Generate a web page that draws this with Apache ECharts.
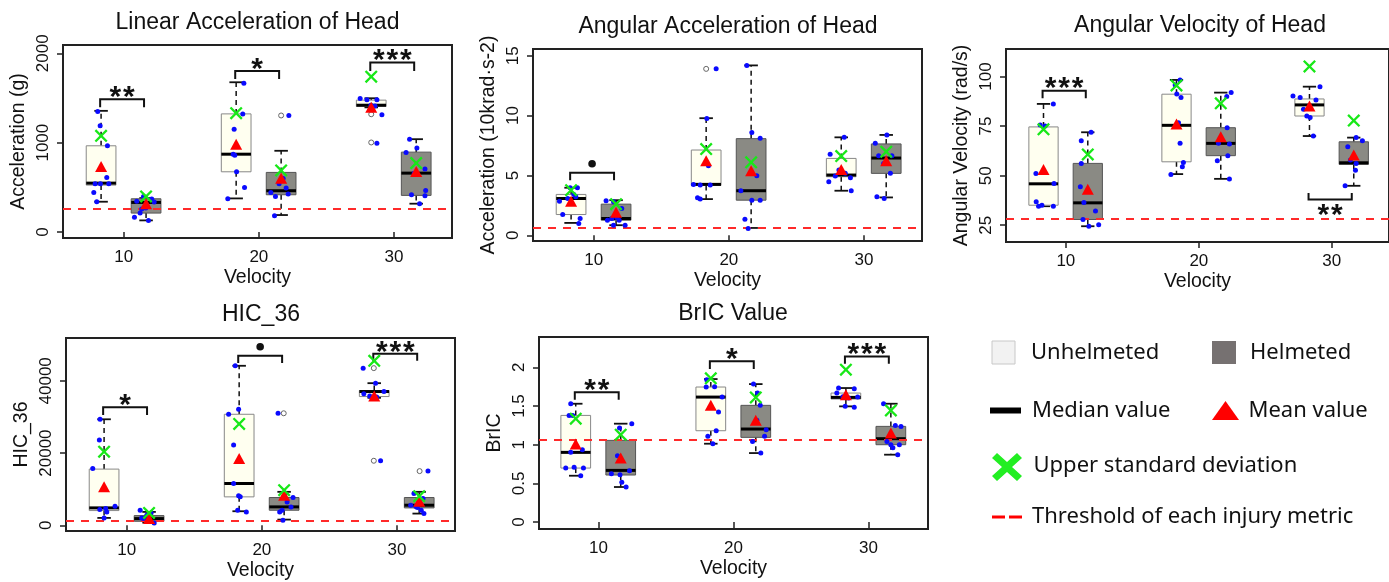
<!DOCTYPE html>
<html><head><meta charset="utf-8">
<script src="https://cdn.jsdelivr.net/npm/echarts@6/dist/echarts.min.js"></script>
<style>html,body{margin:0;padding:0;background:#fff}#c{width:1389px;height:582px}</style>
</head><body><div id="c"></div><script>
// ---------------- DATA ----------------
const velocities = [10, 20, 30];
const panelTitles = ['Linear Acceleration of Head', 'Angular Acceleration of Head', 'Angular Velocity of Head', 'HIC_36', 'BrIC Value'];
const yNames = ['Acceleration (g)', 'Acceleration (10krad\u00b7s-2)', 'Angular Velocity (rad/s)', 'HIC_36', 'BrIC'];
const xName = 'Velocity';
const xTicks = [10, 20, 30];
const linTicks = [0, 1000, 2000];
const angTicks = [0, 5, 10, 15];
const velTicks = [25, 50, 75, 100];
const hicTicks = [0, 20000, 40000];
const bricTicks = [0, 0.5, 1, 1.5, 2];
const legendLabels = ['Unhelmeted', 'Helmeted', 'Median value', 'Mean value', 'Upper standard deviation', 'Threshold of each injury metric'];

// box stats per velocity: [lower whisker, Q1, median, Q3, upper whisker]
const linBoxU = [[339, 525, 547, 965, 1356], [376, 674, 871, 1322, 1676], [1395, 1405, 1419, 1476, 1497]];
const linBoxH = [[130, 212, 331, 372, 380], [190, 417, 462, 667, 909], [317, 410, 659, 894, 1039]];
const linMeanU = [734, 983, 1397];
const linMeanH = [316, 603, 678];
const linSdU = [1076, 1330, 1739];
const linSdH = [398, 689, 771];
const linPtsU = [[8.07,1348],[8.25,1188],[8.79,965],[7.88,540],[8.27,540],[8.89,540],[8.74,611],[7.78,443],[8.0,339],
  [18.89,1665],[18.81,1322],[18.17,1151],[18.22,860],[18.35,674],[18.94,499],[17.7,372],[18.1,870],
  [27.5,1493],[28.0,1479],[28.74,1479],[29.11,1311],[28.74,994],[28.3,1420],[28.6,1410]];
const linPtsH = [[10.79,164],[11.21,212],[11.63,268],[11.83,130],[10.96,343],[12.07,369],[11.46,398],[12.25,335],[11.33,257],
  [22.22,1304],[21.23,398],[20.89,443],[22.02,492],[22.17,425],[21.16,182],[21.5,540],[21.8,600],
  [31.16,1039],[31.7,939],[30.9,890],[31.5,659],[32.3,704],[32.35,466],[31.3,417],[32.3,406],[31.9,317]];
const linOut = [[21.65,1304],[28.32,1318],[28.32,1002]];
const linThr = 260;
const linSig = [[10, 1486, 1397, '**'], [20, 1803, 1712, '*'], [30, 1896, 1803, '***']];

const angBoxU = [[1.03, 1.73, 3.07, 3.41, 3.97], [3.02, 4.16, 4.25, 7.12, 9.78], [3.72, 4.89, 5.03, 6.42, 8.18]];
const angBoxH = [[0.84, 1.26, 1.40, 2.60, 2.93], [0.61, 2.93, 3.72, 8.07, 14.19], [3.16, 5.17, 6.45, 7.63, 8.38]];
const angMeanU = [2.85, 6.23, 5.5];
const angMeanH = [1.93, 5.39, 6.23];
const angSdU = [3.77, 7.2, 6.62];
const angSdH = [2.6, 6.09, 6.98];
const angPtsU = [[7.46,2.85],[7.7,1.73],[8.25,3.97],[8.79,3.97],[8.52,3.41],[8.67,3.21],[8.99,1.40],[8.89,0.98],[8.07,3.07],
  [19.06,13.9],[18.37,9.75],[18.49,5.81],[17.38,4.25],[17.88,4.19],[18.62,4.19],[17.68,3.13],[17.88,3.02],
  [28.54,8.18],[27.5,6.76],[28.15,5.45],[27.4,4.47],[27.88,4.94],[28.62,5.17],[29.0,4.8],[29.06,3.72]];
const angPtsH = [[10.91,2.88],[11.46,2.79],[11.33,1.40],[11.7,1.48],[11.01,1.26],[11.46,0.84],[12.32,0.84],[11.88,1.26],[12.07,2.23],
  [21.33,14.19],[21.7,8.58],[22.32,8.1],[22.07,4.97],[20.89,3.72],[21.7,2.93],[22.32,2.93],[21.19,1.34],[21.43,0.56],
  [31.7,8.38],[30.84,7.68],[31.09,6.65],[32.07,6.65],[31.46,6.0],[31.96,5.17],[30.96,3.21],[31.5,3.07]];
const angOut = [[18.32,13.9]];
const angThr = 0.61;
const angSig = [[10, 5.22, 4.6, '\u25cf']];

const velBoxU = [[34.6, 35.1, 45.9, 74.6, 86.2], [50.8, 57.0, 75.4, 91.1, 98.3], [70.0, 80.1, 85.7, 88.7, 94.9]];
const velBoxH = [[24.5, 27.9, 36.3, 56.2, 71.9], [48.4, 60.1, 66.3, 74.2, 91.9], [44.9, 55.7, 56.5, 67.1, 69.2]];
const velMeanU = [53.1, 76.1, 85.2];
const velMeanH = [43.2, 69.7, 60.4];
const velSdU = [73.4, 95.5, 105.1];
const velSdH = [60.7, 86.5, 77.8];
const velPtsU = [[9.06,86.2],[8.07,75.6],[8.44,75.1],[7.75,51.1],[9.11,46.1],[7.77,36.8],[7.95,34.6],[8.2,35.1],[9.06,34.6],
  [18.59,98.3],[18.22,95.8],[18.34,91.2],[18.66,89.4],[18.47,76.7],[18.59,66.3],[18.84,56.7],[18.76,54.5],[17.9,50.6],
  [29.11,94.9],[27.08,90.2],[27.62,89.4],[28.81,88.2],[27.87,83.5],[28.12,80.1],[28.37,79.4],[28.61,70.0]];
const velPtsH = [[11.9,71.9],[11.16,67.6],[11.16,56.2],[11.09,44.4],[11.36,36.5],[12.23,32.2],[11.29,27.9],[11.73,24.5],[12.47,25.3],
  [22.43,91.9],[22.1,89.9],[22.13,74.2],[21.48,66.3],[22.3,66.0],[22.18,60.1],[21.39,57.5],[22.3,48.3],
  [31.83,69.2],[32.3,67.6],[31.2,64.6],[31.83,56.2],[31.4,57.9],[31.78,52.8],[31.0,44.9]];
const velOut = [];
const velThr = 28.4;
const velSig = [[10, 92.9, 89.0, '***'], [30, 38.0, 41.3, '**']];

const hicBoxU = [[2037, 4074, 4815, 15556, 29352], [3889, 7870, 11574, 30741, 44167], [35300, 35648, 37037, 37315, 39352]];
const hicBoxH = [[741, 1111, 1852, 2685, 3704], [1574, 4167, 5093, 7685, 9259], [3241, 4815, 5556, 7685, 9259]];
const hicMeanU = [10648, 18519, 35833];
const hicMeanH = [1852, 8333, 6667];
const hicSdU = [20370, 28056, 45556];
const hicSdH = [3426, 9722, 8056];
const hicPtsU = [[8.02,29352],[7.97,23611],[7.48,15741],[9.13,5278],[8.44,4630],[8.52,3704],[8.32,2037],[8.0,4400],
  [18.03,44167],[18.28,32130],[17.54,30741],[17.91,22222],[17.91,11574],[18.28,8148],[18.4,7900],[18.21,4167],[18.85,3704],
  [27.5,43519],[28.42,39352],[27.55,36389],[27.99,35833],[29.04,37037],[28.79,17870],[28.5,35500]];
const hicPtsH = [[10.99,4167],[11.48,2778],[11.24,1852],[11.61,1389],[12.03,648],[11.8,3400],[11.1,2000],
  [21.2,31019],[22.31,7685],[21.87,6481],[21.5,4167],[22.16,5093],[21.32,3704],[21.56,1389],[21.7,8600],
  [32.3,15000],[31.26,8796],[31.93,7407],[31.02,5556],[31.51,4907],[31.8,4167],[32.0,3241],[31.4,5200]];
const hicOut = [[21.62,31019],[28.29,43519],[28.29,17870],[31.68,15000]];
const hicThr = 1200;
const hicSig = [[10, 32685, 30556, '*'], [20, 46944, 44907, '\u25cf'], [30, 47500, 45556, '***']];

const bricBoxU = [[0.599, 0.698, 0.901, 1.379, 1.53], [1.013, 1.181, 1.616, 1.746, 1.849], [1.496, 1.591, 1.612, 1.668, 1.733]];
const bricBoxH = [[0.453, 0.608, 0.668, 1.056, 1.272], [0.892, 1.095, 1.203, 1.509, 1.784], [0.871, 1.0, 1.078, 1.237, 1.53]];
const bricMeanU = [1.009, 1.509, 1.647];
const bricMeanH = [0.828, 1.315, 1.151];
const bricSdU = [1.336, 1.858, 1.97];
const bricSdH = [1.129, 1.612, 1.444];
const bricPtsU = [[7.95,1.53],[7.83,1.379],[8.1,1.379],[8.81,0.935],[7.95,0.901],[7.58,0.698],[8.2,0.707],[8.89,0.698],[8.69,0.599],
  [18.02,1.841],[17.98,1.746],[19.16,1.616],[18.89,1.422],[18.72,1.181],[18.1,1.108],[18.47,1.013],[18.6,1.75],
  [27.78,1.733],[28.94,1.724],[27.65,1.668],[28.52,1.603],[29.19,1.616],[28.27,1.496],[28.94,1.483],[28.1,1.62]];
const bricPtsH = [[12.47,1.272],[11.56,1.216],[11.41,0.858],[12.3,0.664],[10.96,0.625],[11.6,0.612],[11.73,0.513],[12.05,0.453],
  [21.48,1.784],[21.78,1.668],[21.98,1.509],[21.73,1.315],[22.42,1.194],[22.3,1.108],[21.41,1.043],[22.02,0.892],
  [31.11,1.53],[31.98,1.25],[32.4,1.237],[31.36,1.043],[31.65,1.0],[32.28,1.0],[31.8,0.96],[32.16,0.871]];
const bricOut = [];
const bricThr = 1.06;
const bricSig = [[10, 1.677, 1.582, '**'], [20, 2.078, 1.978, '*'], [30, 2.142, 2.047, '***']];

// ---------------- LAYOUT / STYLE ----------------
const FONT = '"Liberation Sans", Arial, sans-serif';
const LFONT = '"Noto Sans", "Open Sans", sans-serif';
const OFF_U = -1.68, OFF_H = 1.65, BOX_W = 2.2, CAP_W = 1.0, BR_L = -1.75, BR_R = 1.5;
const layout = [
  {left: 63, top: 45, width: 389, height: 193, xmin: 5.5, xmax: 34.3, ymin: -67, ymax: 2093, tx: 257.5, ty: 22.5},
  {left: 533, top: 49, width: 389, height: 192, xmin: 5.5, xmax: 34.3, ymin: -0.48, ymax: 15.56, tx: 728, ty: 26.3},
  {left: 1006, top: 49, width: 388, height: 193, xmin: 5.5, xmax: 34.3, ymin: 16.55, ymax: 113.9, tx: 1200, ty: 25.8},
  {left: 66, top: 338, width: 389, height: 193, xmin: 5.5, xmax: 34.3, ymin: -1583, ymax: 51861, tx: 261, ty: 315},
  {left: 539, top: 337, width: 389, height: 192, xmin: 5.6, xmax: 34.4, ymin: -0.09, ymax: 2.393, tx: 733, ty: 314}
];
const panels = [
  {ticks: linTicks, boxU: linBoxU, boxH: linBoxH, meanU: linMeanU, meanH: linMeanH, sdU: linSdU, sdH: linSdH, ptsU: linPtsU, ptsH: linPtsH, out: linOut, thr: linThr, sig: linSig},
  {ticks: angTicks, boxU: angBoxU, boxH: angBoxH, meanU: angMeanU, meanH: angMeanH, sdU: angSdU, sdH: angSdH, ptsU: angPtsU, ptsH: angPtsH, out: angOut, thr: angThr, sig: angSig},
  {ticks: velTicks, boxU: velBoxU, boxH: velBoxH, meanU: velMeanU, meanH: velMeanH, sdU: velSdU, sdH: velSdH, ptsU: velPtsU, ptsH: velPtsH, out: velOut, thr: velThr, sig: velSig},
  {ticks: hicTicks, boxU: hicBoxU, boxH: hicBoxH, meanU: hicMeanU, meanH: hicMeanH, sdU: hicSdU, sdH: hicSdH, ptsU: hicPtsU, ptsH: hicPtsH, out: hicOut, thr: hicThr, sig: hicSig},
  {ticks: bricTicks, boxU: bricBoxU, boxH: bricBoxH, meanU: bricMeanU, meanH: bricMeanH, sdU: bricSdU, sdH: bricSdH, ptsU: bricPtsU, ptsH: bricPtsH, out: bricOut, thr: bricThr, sig: bricSig}
];
const XPATH = 'path://M0,3 L3,0 L12,9 L21,0 L24,3 L15,12 L24,21 L21,24 L12,15 L3,24 L0,21 L9,12 Z';

function boxRender(fill, stroke) {
  return function (params, api) {
    const x = api.value(0);
    const lo = api.coord([x, api.value(1)]), q1 = api.coord([x, api.value(2)]), md = api.coord([x, api.value(3)]);
    const q3 = api.coord([x, api.value(4)]), hi = api.coord([x, api.value(5)]);
    const hw = api.size([BOX_W / 2, 0])[0], cw = api.size([CAP_W / 2, 0])[0];
    const px = lo[0];
    const dash = {stroke: '#111', lineWidth: 1.5, lineDash: [5, 4]};
    const solid = {stroke: '#111', lineWidth: 1.8};
    return {type: 'group', children: [
      {type: 'line', shape: {x1: px, y1: q3[1], x2: px, y2: hi[1]}, style: dash},
      {type: 'line', shape: {x1: px, y1: q1[1], x2: px, y2: lo[1]}, style: dash},
      {type: 'line', shape: {x1: px - cw, y1: hi[1], x2: px + cw, y2: hi[1]}, style: solid},
      {type: 'line', shape: {x1: px - cw, y1: lo[1], x2: px + cw, y2: lo[1]}, style: solid},
      {type: 'rect', shape: {x: px - hw, y: q3[1], width: 2 * hw, height: q1[1] - q3[1]}, style: {fill: fill, stroke: stroke, lineWidth: 1}},
      {type: 'line', shape: {x1: px - hw, y1: md[1], x2: px + hw, y2: md[1]}, style: {stroke: '#000', lineWidth: 3}}
    ]};
  };
}

function sigRender(sig) {
  return function (params, api) {
    const s = sig[params.dataIndex];
    const a = api.coord([s[0] + BR_L, s[1]]), b = api.coord([s[0] + BR_R, s[1]]), leg = api.coord([s[0], s[2]]);
    const below = s[2] > s[1];
    const cx = (a[0] + b[0]) / 2;
    const children = [{type: 'polyline', shape: {points: [[a[0], leg[1]], [a[0], a[1]], [b[0], b[1]], [b[0], leg[1]]]},
      style: {stroke: '#111', lineWidth: 2, fill: null}}];
    if (s[3] === '\u25cf') {
      children.push({type: 'circle', shape: {cx: cx, cy: a[1] - 9, r: 3.8}, style: {fill: '#111'}});
    } else {
      const n = s[3].length;
      for (let j = 0; j < n; j++) {
        children.push({type: 'text', x: cx + (j - (n - 1) / 2) * 13.5, y: below ? a[1] + 16.7 : a[1] - 1.5,
          style: {text: '*', font: 'bold 30px ' + FONT, fill: '#111', align: 'center', verticalAlign: 'middle'}});
      }
    }
    return {type: 'group', children: children};
  };
}

const grids = [], xAxes = [], yAxes = [], series = [], graphics = [];
panels.forEach(function (p, i) {
  const L = layout[i];
  grids.push({left: L.left, top: L.top, width: L.width, height: L.height, show: true, borderColor: '#222', borderWidth: 2, backgroundColor: 'transparent'});
  xAxes.push({type: 'value', gridIndex: i, min: L.xmin, max: L.xmax, axisLine: {show: false}, splitLine: {show: false},
    axisTick: {show: true, length: 6, customValues: xTicks, lineStyle: {color: '#222', width: 1.5}},
    axisLabel: {customValues: xTicks, margin: 11, fontSize: 17, fontFamily: FONT, color: '#111'},
    name: xName, nameLocation: 'middle', nameGap: 30, nameTextStyle: {fontSize: 19.5, fontFamily: FONT, color: '#111'}});
  yAxes.push({type: 'value', gridIndex: i, min: L.ymin, max: L.ymax, axisLine: {show: false}, splitLine: {show: false},
    axisTick: {show: true, length: 6, customValues: p.ticks, lineStyle: {color: '#222', width: 1.5}},
    axisLabel: {customValues: p.ticks, rotate: 90, margin: 11, fontSize: 17, fontFamily: FONT, color: '#111', formatter: function (v) { return String(v); }},
    name: yNames[i], nameLocation: 'middle', nameGap: 34, nameRotate: 90, nameTextStyle: {fontSize: 19.5, fontFamily: FONT, color: '#111'}});
  const ax = {xAxisIndex: i, yAxisIndex: i};
  series.push(Object.assign({type: 'custom', z: 1, silent: true, renderItem: boxRender('#fffff0', '#888'), encode: {x: 0, y: [1, 2, 3, 4, 5]},
    data: velocities.map(function (v, k) { return [v + OFF_U].concat(p.boxU[k]); })}, ax));
  series.push(Object.assign({type: 'custom', z: 1, silent: true, renderItem: boxRender('#8a8a84', '#555'), encode: {x: 0, y: [1, 2, 3, 4, 5]},
    data: velocities.map(function (v, k) { return [v + OFF_H].concat(p.boxH[k]); })}, ax));
  series.push(Object.assign({type: 'scatter', z: 2, silent: true, data: [], markLine: {silent: true, z: 2, symbol: ['none', 'none'], label: {show: false},
    lineStyle: {color: '#ff2a2a', width: 2, type: [8, 7]}, data: [{yAxis: p.thr}]}}, ax));
  series.push(Object.assign({type: 'scatter', z: 3, silent: true, symbol: 'circle', symbolSize: 5, data: p.out,
    itemStyle: {color: '#fff', borderColor: '#666', borderWidth: 1, opacity: 1}}, ax));
  series.push(Object.assign({type: 'scatter', z: 4, silent: true, symbol: 'circle', symbolSize: 5, data: p.ptsU.concat(p.ptsH),
    itemStyle: {color: '#0a0aff', opacity: 1}}, ax));
  series.push(Object.assign({type: 'scatter', z: 5, silent: true, symbol: 'triangle', symbolSize: [12, 11],
    data: velocities.map(function (v, k) { return [v + OFF_U, p.meanU[k]]; }).concat(velocities.map(function (v, k) { return [v + OFF_H, p.meanH[k]]; })),
    itemStyle: {color: '#ff0000', opacity: 1}}, ax));
  series.push(Object.assign({type: 'scatter', z: 6, silent: true, symbol: XPATH, symbolSize: 13,
    data: velocities.map(function (v, k) { return [v + OFF_U, p.sdU[k]]; }).concat(velocities.map(function (v, k) { return [v + OFF_H, p.sdH[k]]; })),
    itemStyle: {color: '#18e818', opacity: 1}}, ax));
  series.push(Object.assign({type: 'custom', z: 6, silent: true, renderItem: sigRender(p.sig), encode: {x: 0, y: [1, 2]},
    data: p.sig.map(function (s) { return [s[0], s[1], s[2]]; })}, ax));
  graphics.push({type: 'text', x: L.tx, y: L.ty, style: {text: panelTitles[i], font: '23px ' + FONT, fill: '#111', align: 'center', verticalAlign: 'middle'}});
});

// legend panel
const lt = {font: '22px ' + LFONT, fill: '#111', align: 'left', verticalAlign: 'middle'};
graphics.push(
  {type: 'rect', shape: {x: 992, y: 341, width: 23, height: 23}, style: {fill: '#f2f2f2', stroke: '#c8c8c8', lineWidth: 1}},
  {type: 'text', x: 1031, y: 352.5, style: Object.assign({text: legendLabels[0]}, lt)},
  {type: 'rect', shape: {x: 1212, y: 341, width: 24, height: 23}, style: {fill: '#767171'}},
  {type: 'text', x: 1250, y: 352.5, style: Object.assign({text: legendLabels[1]}, lt)},
  {type: 'rect', shape: {x: 990, y: 407.5, width: 31, height: 6}, style: {fill: '#000'}},
  {type: 'text', x: 1032, y: 410.5, style: Object.assign({text: legendLabels[2]}, lt)},
  {type: 'polygon', shape: {points: [[1212, 420], [1239, 420], [1225.5, 401]]}, style: {fill: '#ff0000'}},
  {type: 'text', x: 1248.5, y: 410.5, style: Object.assign({text: legendLabels[3]}, lt)},
  {type: 'polygon', shape: {points: [[992, 458], [997, 453], [1007, 462], [1017, 453], [1022, 458], [1012, 467], [1022, 476], [1017, 481], [1007, 472], [997, 481], [992, 476], [1002, 467]]}, style: {fill: '#22ee22'}},
  {type: 'text', x: 1033.5, y: 466, style: Object.assign({text: legendLabels[4]}, lt)},
  {type: 'rect', shape: {x: 992, y: 515.5, width: 13, height: 3}, style: {fill: '#ff0000'}},
  {type: 'rect', shape: {x: 1009, y: 515.5, width: 13, height: 3}, style: {fill: '#ff0000'}},
  {type: 'text', x: 1032, y: 517, style: Object.assign({text: legendLabels[5]}, lt)}
);

const chart = echarts.init(document.getElementById('c'));
chart.setOption({
  animation: false,
  backgroundColor: '#fff',
  grid: grids, xAxis: xAxes, yAxis: yAxes, series: series, graphic: graphics
});
</script></body></html>
